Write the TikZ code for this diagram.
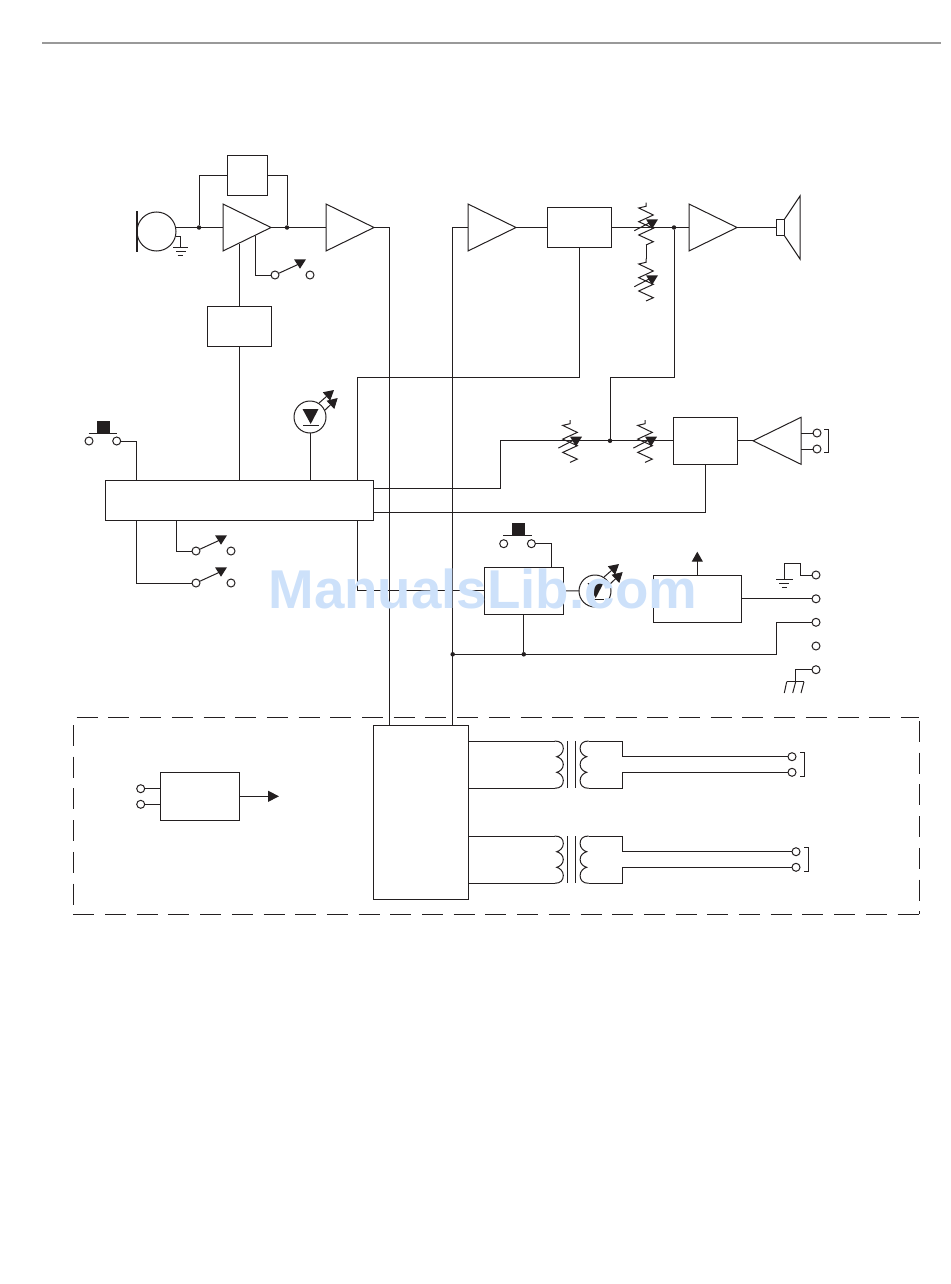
\documentclass[tikz,border=0pt]{standalone}
\usepackage{fontspec}
\setmainfont{Liberation Sans}
\usetikzlibrary{shapes.geometric,arrows.meta}
\definecolor{inkblack}{HTML}{231F20}
\definecolor{markblue}{HTML}{CDE1FA}
\tikzset{
  box/.style={draw,rectangle,inner sep=0,outer sep=0},
  amp/.style={draw,isosceles triangle,isosceles triangle stretches,isosceles triangle apex angle=53,
    minimum width=47,minimum height=48,inner sep=0,outer sep=0},
  terminal/.style={draw,circle,inner sep=0,outer sep=0,minimum size=8},
  junction/.style={fill,circle,inner sep=0,outer sep=0,minimum size=4.5},
  panel/.style={dash pattern=on 21pt off 10.7pt},
  upfill/.style={-{Triangle[width=11,length=10]}},
  switch/.pic={
    \node[terminal] (-a) at (0,0) {};
    \node[terminal] (-b) at (35,0) {};
    \coordinate (-t) at (24,-11);
    \draw (-a) -- (-t);
    \fill (19,-15.7) -- (31,-15.7) -- (25,-6.3) -- cycle;
  },
  pushbutton/.pic={
    \node[terminal] (-a) at (0,0) {};
    \node[terminal] (-b) at (27.7,0) {};
    \draw (-0.5,-8) -- (28.2,-8);
    \fill (8,-20.5) rectangle (21,-8);
  },
  lamp/.pic={
    \node[draw,circle,inner sep=0,outer sep=0,minimum size=32] (-c) at (0,0) {};
    \fill (-7.5,-8) -- (8.5,-8) -- (0.7,7) -- cycle;
    \draw (-7,8) -- (9,8);
    \draw[upfill] (9,-14) -- (24,-27);
    \draw[upfill] (15,-7) -- (27.7,-19);
  },
  pot/.pic={
    \draw (-6,-16.7) coordinate (-top) -- (-6,-13) -- (-13.3,-11.3) -- (1.3,-4.3) -- (-13.3,2.4) -- (1.3,9)
      -- (-13.3,15.7) -- (1.3,22.4) -- (-6,25.7) coordinate (-bot);
    \draw (-17.7,11.4) -- (1,1.7);
    \fill (-6,0) -- (6,0) -- (0,9.7) -- cycle;
  },
  transformer/.pic={
    \foreach \ox/\sx in {0/1,30/-1}
      \draw[xshift=\ox,xscale=\sx] (-2,0) .. controls (4,0) and (6.6,3) .. (6.6,7.5)
        .. controls (6.6,12) and (3,15) .. (0,15.7)
        .. controls (3,16.5) and (6.6,19) .. (6.6,23.5)
        .. controls (6.6,28) and (3,30.5) .. (0,31.3)
        .. controls (3,32) and (6.6,35) .. (6.6,39.5)
        .. controls (6.6,44) and (4,47.3) .. (-2,47.3);
    \draw (10.6,0) -- (10.6,47.3);
    \draw (18.3,0) -- (18.3,47.3);
    \coordinate (-pa) at (-2,0);
    \coordinate (-pb) at (-2,47.3);
    \coordinate (-sa) at (32,0);
    \coordinate (-sb) at (32,47.3);
    \coordinate (-ca) at (65.6,15.7);
    \coordinate (-cb) at (65.6,31.3);
  },
}
\begin{document}
\begin{tikzpicture}[x=1pt,y=-1pt,line width=1pt,color=inkblack]
  \useasboundingbox (0,0) rectangle (950,1284);
  \coordinate (rulea) at (42,43);
  \coordinate (ruleb) at (941,43);
  \draw[gray!80,line width=1.4pt] (rulea) -- (ruleb);

  % microphone and first stages
  \node[draw,circle,inner sep=0,outer sep=0,minimum size=39] (mic) at (156.5,231.5) {};
  \coordinate (micbara) at (137,211);
  \coordinate (micbarb) at (137,252);
  \draw[line width=1.5pt] (micbara) -- (micbarb);
  \node[amp,anchor=lower side] (ampa) at (223,227.5) {};
  \node[amp,anchor=lower side] (ampb) at (326,227.5) {};
  \node[junction] (dota) at (199,227.5) {};
  \node[junction] (dotb) at (287,227.5) {};
  \node[box,minimum width=40,minimum height=40] (fbk) at (247,176) {};
  \node[box,minimum width=64,minimum height=40] (agc) at (239,326) {};
  \coordinate (micin) at (176,227.5);
  \draw (micin) -- (dota) -- (ampa.lower side);
  \draw (ampa.apex) -- (dotb) -- (ampb.lower side);
  \draw (fbk.west) -| (dota);
  \draw (fbk.east) -| (dotb);
  \coordinate (micgnd) at (176,236);
  \coordinate (gnda) at (180,247);
  \draw (micgnd) -| (gnda);
  \draw (173,247) -- (188,247);
  \draw (176,251) -- (186,251);
  \draw (177.5,255) -- (183,255);
  \pic (swa) at (275,275) {switch};
  \coordinate (ampatap) at (255,236);
  \draw (ampatap) |- (swa-a);
  \coordinate (ampafoot) at (239,243.5);
  \draw (ampafoot) -- (agc.north);

  % control block
  \node[box,minimum width=268,minimum height=40] (ctrl) at (239,500) {};
  \draw (agc.south) -- (ctrl.north);
  \pic (pba) at (89,441) {pushbutton};
  \coordinate (ctrlpb) at (136.5,480);
  \draw (pba-b) -| (ctrlpb);
  \pic (leda) at (310,417) {lamp};
  \coordinate (ctrlled) at (310,480);
  \draw (leda-c) -- (ctrlled);
  \pic (swb) at (196,551) {switch};
  \pic (swc) at (196,583) {switch};
  \coordinate (ctrlswb) at (176.7,520);
  \coordinate (ctrlswc) at (136.5,520);
  \draw (ctrlswb) |- (swb-a);
  \draw (ctrlswc) |- (swc-a);

  % receive path
  \node[amp,anchor=lower side] (ampc) at (468,227.5) {};
  \node[box,minimum width=64,minimum height=40] (vol) at (579,227.5) {};
  \node[amp,anchor=lower side] (ampd) at (689,227.5) {};
  \node[junction] (dotc) at (674,227.5) {};
  \draw (ampc.apex) -- (vol.west);
  \draw (vol.east) -- (dotc) -- (ampd.lower side);
  \pic (pota) at (652,219.3) {pot};
  \pic (potb) at (652,275.3) {pot};
  \draw (pota-bot) -- (potb-top);
  \node[box,minimum width=8,minimum height=16] (cone) at (780.3,227.5) {};
  \draw (ampd.apex) -- (cone.west);
  \coordinate (conea) at (800,196);
  \coordinate (coneb) at (800,259);
  \draw (cone.north east) -- (conea) -- (coneb) -- (cone.south east);

  % headset path
  \node[box,minimum width=64,minimum height=47] (mix) at (705.3,440.8) {};
  \node[amp,anchor=lower side,shape border rotate=180] (ampe) at (801,440.8) {};
  \node[junction] (dotd) at (610,440.8) {};
  \pic (potc) at (576,436.7) {pot};
  \pic (potd) at (651,436.7) {pot};
  \coordinate (bendv) at (500,440.8);
  \coordinate (ctrlv) at (373,488);
  \draw (ctrlv) -| (bendv) -- (dotd) -- (mix.west);
  \coordinate (benda) at (610,377);
  \draw (dotc) |- (benda) -- (dotd);
  \draw (mix.east) -- (ampe.apex);
  \coordinate (ctrlm) at (373,512);
  \draw (ctrlm) -| (mix.south);
  \node[terminal] (jka) at (817,433) {};
  \node[terminal] (jkb) at (817,449) {};
  \coordinate (ampea) at (801,433);
  \coordinate (ampeb) at (801,449);
  \draw (ampea) -- (jka);
  \draw (ampeb) -- (jkb);
  \draw (824,429) -- (828.3,429) -- (828.3,452) -- (824,452);

  % long runs into the line block
  \node[box,minimum width=95,minimum height=174] (line) at (420.8,812.3) {};
  \coordinate (linea) at (389,725.3);
  \coordinate (lineb) at (452.7,725.3);
  \draw (ampb.apex) -| (linea);
  \draw (ampc.lower side) -| (lineb);
  \coordinate (ctrlt) at (357.5,480);
  \coordinate (ctrlb) at (357.5,520);
  \coordinate (bendt) at (357.5,377);
  \draw (ctrlt) -- (bendt) -| (vol.south);

  % ringer and supply
  \node[box,minimum width=79,minimum height=47] (ring) at (523.8,590.8) {};
  \draw (ctrlb) |- (ring.west);
  \pic (pbb) at (503.7,543.7) {pushbutton};
  \coordinate (ringpb) at (551.3,567.3);
  \draw (pbb-b) -| (ringpb);
  \pic (ledb) at (595,591) {lamp};
  \draw (ring.east) -- (ledb-c);
  \node[box,minimum width=88,minimum height=47] (psu) at (697.3,598.8) {};
  \coordinate (psuup) at (697.3,551.7);
  \draw[upfill] (psu.north) -- (psuup);
  \node[terminal] (tma) at (816,575) {};
  \node[terminal] (tmb) at (816,598.8) {};
  \node[terminal] (tmc) at (816,622.3) {};
  \node[terminal] (tmd) at (816,646) {};
  \node[terminal] (tme) at (816,669.7) {};
  \draw (psu.east) -- (tmb);
  \coordinate (gndb) at (784.3,579);
  \coordinate (gndt) at (800.7,563.3);
  \draw (tma) -| (gndt) -| (gndb);
  \draw (776,579) -- (792.7,579);
  \draw (779.3,583.3) -- (789.3,583.3);
  \draw (782,587.3) -- (786.7,587.3);
  \node[junction] (dote) at (452.7,654.3) {};
  \node[junction] (dotf) at (523.8,654.3) {};
  \coordinate (bendc) at (776.5,622.3);
  \draw (ring.south) -- (dotf);
  \draw (dote) -- (dotf) -| (bendc) -- (tmc);
  \coordinate (gndc) at (795.7,681.7);
  \draw (tme) -| (gndc);
  \draw (786.7,681.7) -- (804,681.7);
  \draw (786.7,681.7) -- (784.3,693);
  \draw (795.7,681.7) -- (792.7,693);
  \draw (804,681.7) -- (801,693);

  % dashed panel
  \draw[panel] (76.7,717.3) -- (919,717.3);
  \draw[panel] (919,721) -- (919,914.3);
  \draw[panel] (73.3,914.3) -- (919,914.3);
  \draw[panel] (73.3,725) -- (73.3,908);

  \node[box,minimum width=79,minimum height=48] (det) at (199.8,796.3) {};
  \node[terminal] (ina) at (140.7,788.7) {};
  \node[terminal] (inb) at (140.7,804.3) {};
  \draw (ina) -- (det.west |- ina);
  \draw (inb) -- (det.west |- inb);
  \coordinate (detout) at (279,796.3);
  \draw[-{Triangle[width=11,length=11]}] (det.east) -- (detout);

  \pic (tra) at (556.7,741) {transformer};
  \pic (trb) at (556.7,836) {transformer};
  \draw (line.east |- tra-pa) -- (tra-pa);
  \draw (line.east |- tra-pb) -- (tra-pb);
  \draw (line.east |- trb-pa) -- (trb-pa);
  \draw (line.east |- trb-pb) -- (trb-pb);
  \node[terminal] (lna) at (792,756.7) {};
  \node[terminal] (lnb) at (792,772.3) {};
  \node[terminal] (lnc) at (796,851.7) {};
  \node[terminal] (lnd) at (796,867.3) {};
  \draw (tra-sa) -| (tra-ca) -- (lna);
  \draw (tra-sb) -| (tra-cb) -- (lnb);
  \draw (trb-sa) -| (trb-ca) -- (lnc);
  \draw (trb-sb) -| (trb-cb) -- (lnd);
  \draw (800,752.3) -- (804.7,752.3) -- (804.7,776.3) -- (800,776.3);
  \draw (804,847) -- (808.7,847) -- (808.7,871.3) -- (804,871.3);

  \node[text=markblue,font=\bfseries\fontsize{54.7}{54.7}\selectfont,anchor=base west,inner sep=0] (wmark) at (268,608) {ManualsLib.com};
\end{tikzpicture}
\end{document}
